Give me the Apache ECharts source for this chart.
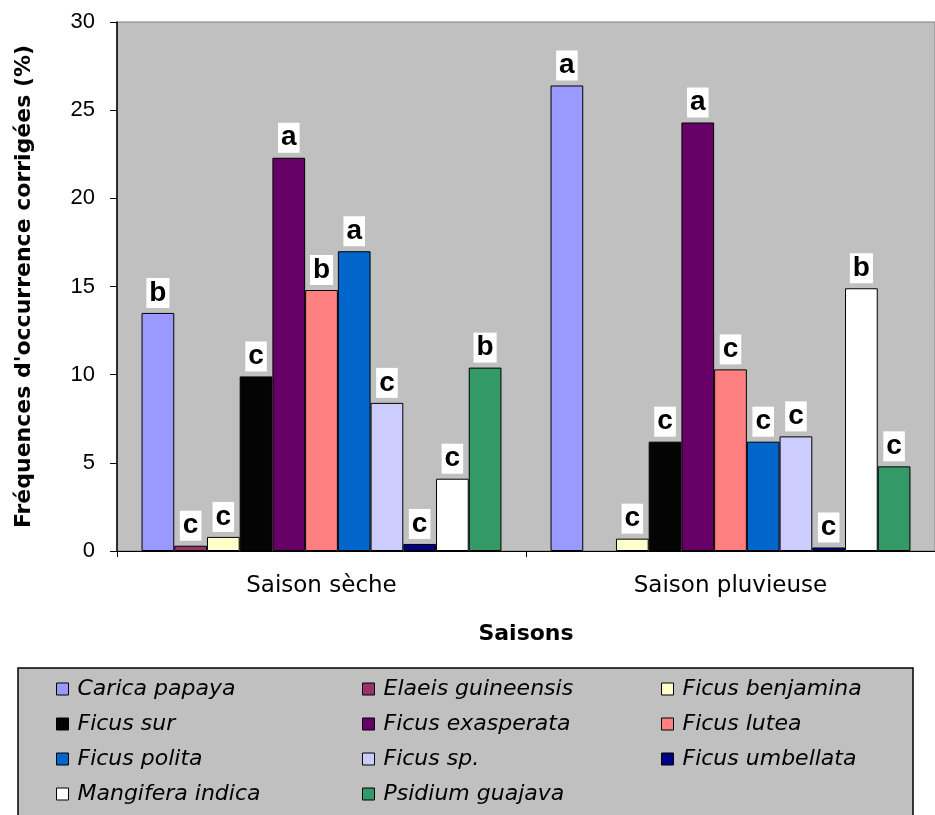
<!DOCTYPE html>
<html>
<head>
<meta charset="utf-8">
<script src="https://cdn.jsdelivr.net/npm/echarts@6/dist/echarts.min.js"></script>
<style>
  html, body { margin: 0; padding: 0; background: #fff; }
  #chart { width: 935px; height: 815px; }
</style>
</head>
<body>
<div id="chart"></div>
<script>
// Seasons on the category axis
const seasons = ['Saison sèche', 'Saison pluvieuse'];

// Plant species (one bar series each)
const species = [
  'Carica papaya', 'Elaeis guineensis', 'Ficus benjamina',
  'Ficus sur', 'Ficus exasperata', 'Ficus lutea',
  'Ficus polita', 'Ficus sp.', 'Ficus umbellata',
  'Mangifera indica', 'Psidium guajava'
];

// Corrected occurrence frequencies (%) per species
const dryValues   = [13.5, 0.3, 0.8, 9.9, 22.3, 14.8, 17.0, 8.4, 0.4, 4.1, 10.4];
const rainyValues = [26.4, null, 0.7, 6.2, 24.3, 10.3, 6.2, 6.5, 0.2, 14.9, 4.8];

// Significance letters above each bar
const dryLetters   = ['b', 'c', 'c', 'c', 'a', 'b', 'a', 'c', 'c', 'c', 'b'];
const rainyLetters = ['a', '',  'c', 'c', 'a', 'c', 'c', 'c', 'c', 'b', 'c'];

// Fill colour per species
const colors = [
  '#9999FF', '#993366', '#FFFFCC',
  '#040404', '#660066', '#FF8080',
  '#0066CC', '#CCCCFF', '#000080',
  '#FFFFFF', '#339966'
];

// Axis ticks
const yMin = 0, yMax = 30, yStep = 5;

// Legend columns (species indices)
const legendColumns = [
  [0, 3, 6, 9],
  [1, 4, 7, 10],
  [2, 5, 8]
];
const legendLeft = [56, 362, 661];

const chart = echarts.init(document.getElementById('chart'), null, { renderer: 'canvas' });

const series = species.map((name, i) => ({
  name: name,
  type: 'bar',
  barGap: '0%',
  barCategoryGap: '12%',
  data: [dryValues[i], rainyValues[i]],
  itemStyle: { color: colors[i], borderColor: '#000', borderWidth: 1 },
  label: {
    show: true,
    position: 'top',
    distance: 5,
    formatter: p => (p.dataIndex === 0 ? dryLetters[i] : rainyLetters[i]),
    color: '#000',
    fontFamily: 'Liberation Sans',
    fontWeight: 'bold',
    fontSize: 28,
    lineHeight: 28,
    backgroundColor: '#fff',
    padding: [1, 3, 1, 3]
  },
  emphasis: { disabled: true }
}));

const legends = legendColumns.map((idx, c) => ({
  orient: 'vertical',
  left: legendLeft[c],
  top: 678,
  padding: 0,
  itemGap: 13,
  itemWidth: 12,
  itemHeight: 12,
  icon: 'rect',
  selectedMode: false,
  itemStyle: { borderColor: '#000', borderWidth: 1 },
  textStyle: {
    fontFamily: 'DejaVu Sans',
    fontStyle: 'italic',
    fontSize: 22,
    lineHeight: 22,
    color: '#000',
    padding: [0, 0, 0, 4]
  },
  data: idx.map(k => species[k])
}));

chart.setOption({
  animation: false,
  backgroundColor: '#fff',
  grid: {
    left: 117, right: 0, top: 22, bottom: 264,
    show: true,
    backgroundColor: '#C0C0C0',
    borderColor: '#808080',
    borderWidth: 1
  },
  graphic: [{
    type: 'rect',
    z: -1,
    shape: { x: 18, y: 668, width: 895, height: 170 },
    style: { fill: '#C0C0C0', stroke: '#000', lineWidth: 1.5 }
  }],
  legend: legends,
  xAxis: {
    type: 'category',
    data: seasons,
    name: 'Saisons',
    nameLocation: 'middle',
    nameGap: 72,
    nameTextStyle: {
      fontFamily: 'DejaVu Sans', fontWeight: 'bold', fontSize: 22, color: '#000'
    },
    axisLine: { lineStyle: { color: '#000', width: 1 } },
    axisTick: { show: true, length: 6, lineStyle: { color: '#000' } },
    axisLabel: {
      margin: 24,
      fontFamily: 'DejaVu Sans', fontSize: 23, color: '#000'
    }
  },
  yAxis: {
    type: 'value',
    min: yMin, max: yMax, interval: yStep,
    name: "Fréquences d'occurrence corrigées (%)",
    nameLocation: 'middle',
    nameGap: 82,
    nameTextStyle: {
      fontFamily: 'DejaVu Sans', fontWeight: 'bold', fontSize: 22, color: '#000'
    },
    axisLine: { show: true, lineStyle: { color: '#000', width: 1.5 } },
    axisTick: { show: true, length: 7, lineStyle: { color: '#000' } },
    splitLine: { show: false },
    axisLabel: {
      margin: 22,
      fontFamily: 'Liberation Sans', fontSize: 22, color: '#000'
    }
  },
  series: series
});
</script>
</body>
</html>
